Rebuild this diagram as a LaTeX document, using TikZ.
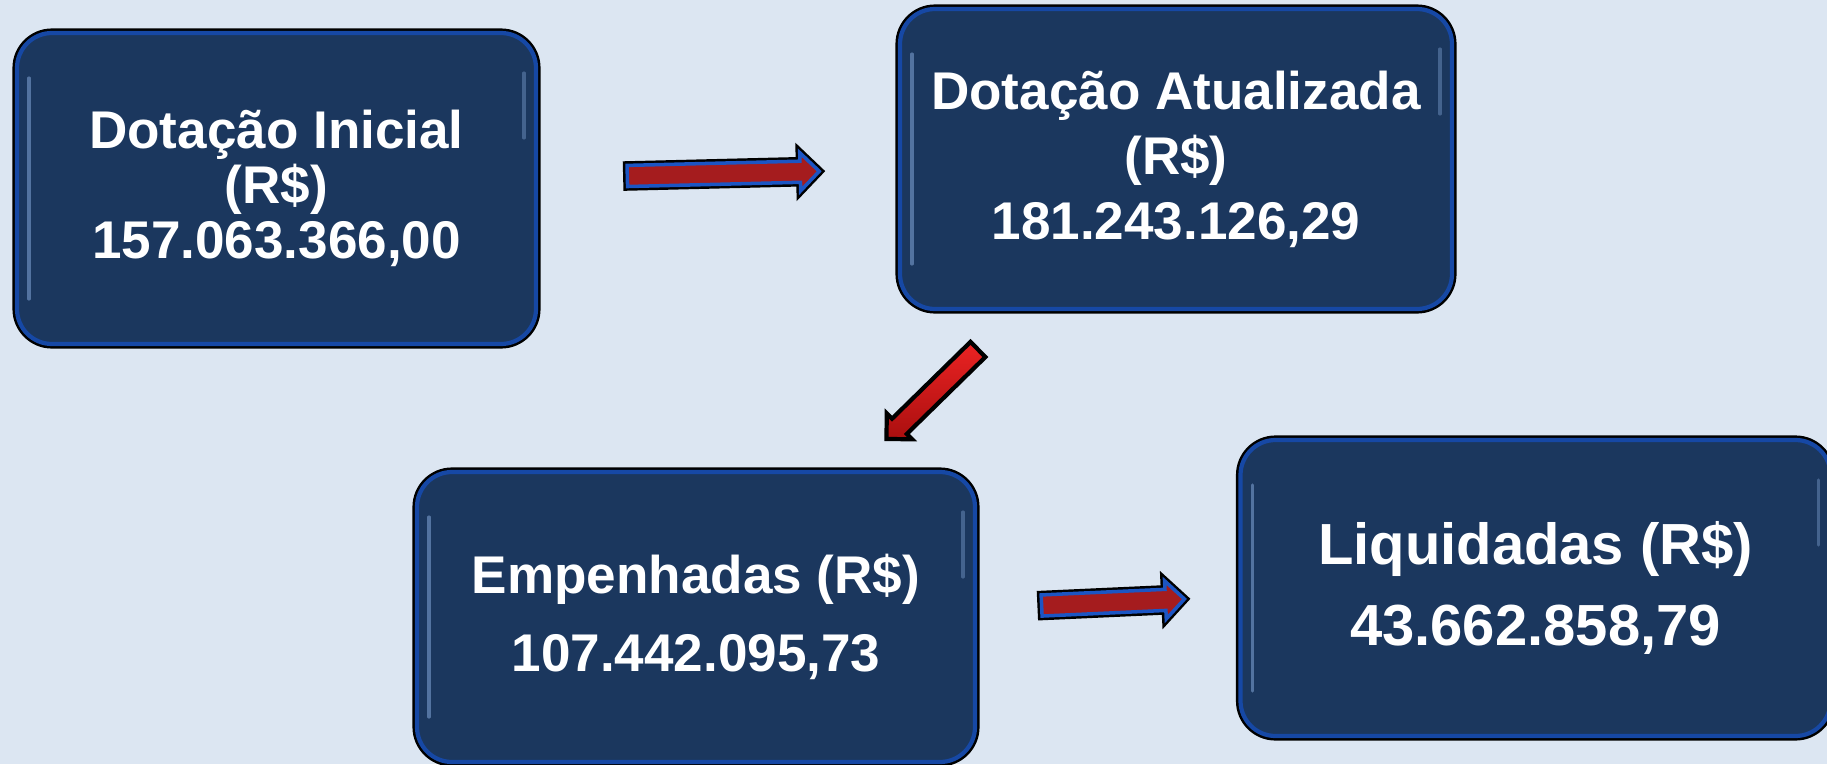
\documentclass[tikz,border=0pt]{standalone}
\usepackage{fontspec}
\setmainfont{Liberation Sans}
\usetikzlibrary{shapes.arrows,positioning,calc}
\definecolor{fundo}{RGB}{220,230,242}
\definecolor{azulcx}{RGB}{27,55,94}
\definecolor{bordacx}{RGB}{22,72,165}
\definecolor{brilho}{RGB}{130,165,215}
\definecolor{setavm}{RGB}{165,28,30}
\definecolor{setabd}{RGB}{28,85,195}

\begin{document}
\begin{tikzpicture}[
caixa/.style={rounded corners=.35cm,fill=azulcx,draw=bordacx,line width=1.2pt,
 preaction={draw=black,line width=2.6pt},text=white,align=center,inner sep=0pt,
 path picture={
  \draw[brilho,opacity=.55,line width=.9pt,line cap=round]([xshift=.12cm,yshift=-.45cm]path picture bounding box.north west)--([xshift=.12cm,yshift=.45cm]path picture bounding box.south west);
  \draw[brilho,opacity=.4,line width=.9pt,line cap=round]([xshift=-.12cm,yshift=-.4cm]path picture bounding box.north east)--([xshift=-.12cm,yshift=-1.05cm]path picture bounding box.north east);}},
seta/.style={single arrow,inner xsep=0pt,inner ysep=.088cm,single arrow head extend=.085cm,
 fill=setavm,draw=setabd,line width=1pt,preaction={draw=black,line width=2.4pt}},
setad/.style={single arrow,inner xsep=0pt,inner ysep=.085cm,single arrow head extend=.075cm,
 top color={rgb,255:red,235;green,35;blue,35},bottom color={rgb,255:red,170;green,15;blue,15},
 draw=black,line width=1.2pt}]
\fill[fundo](0,0)rectangle(18.27,7.64);
\useasboundingbox(0,0)rectangle(18.27,7.64);
\node[caixa,minimum width=5.19cm,minimum height=3.11cm,font=\fontsize{15.1}{15.6}\selectfont\bfseries](ini)at(2.765,5.755){Dotação Inicial\\(R\$)\\157.063.366,00};
\node[caixa,minimum width=5.52cm,minimum height=3cm,font=\fontsize{15.1}{18.5}\selectfont\bfseries](atu)at(11.76,6.05){Dotação Atualizada\\(R\$)\\181.243.126,29};
\node[caixa,minimum width=5.58cm,minimum height=2.9cm,font=\fontsize{15.1}{22.2}\selectfont\bfseries](emp)at(6.96,1.47){Empenhadas (R\$)\\107.442.095,73};
\node[caixa,minimum width=5.9cm,minimum height=2.96cm,font=\fontsize{16.5}{23.3}\selectfont\bfseries](liq)at(15.355,1.76){Liquidadas (R\$)\\43.662.858,79};
\node[seta,rotate=1.4,minimum height=1.92cm](s1)at($(ini.east)!.50!(atu.west)$){};
\node[setad,rotate=224.4,minimum height=1.28cm](s2)at($(atu.south)!.5!(emp.north)$){};
\node[seta,rotate=2.6,minimum height=1.43cm](s3)at($(emp.east)!.50!(liq.west)$){};
\end{tikzpicture}
\end{document}
